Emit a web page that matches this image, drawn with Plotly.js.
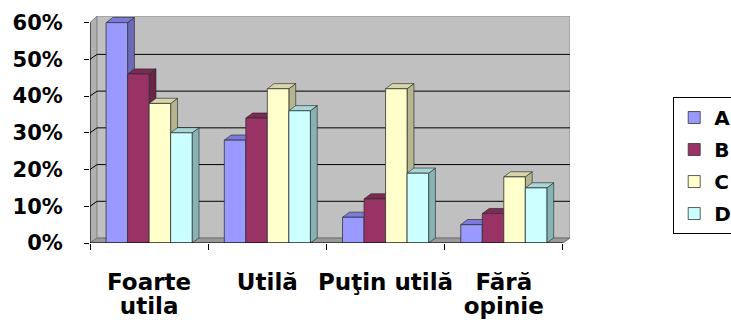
<!DOCTYPE html>
<html>
<head>
<meta charset="utf-8">
<script src="https://cdn.plot.ly/plotly-3.0.1.min.js"></script>
<style>html,body{margin:0;padding:0;background:#fff;}#chart{width:731px;height:320px;}</style>
</head>
<body>
<div id="chart"></div>
<script>
// ---- data ----
const categories = ['Foarte<br>utila', 'Utilă', 'Puţin utilă', 'Fără<br>opinie'];
const seriesNames = ['A', 'B', 'C', 'D'];
const valuesA = [60, 28, 7, 5];
const valuesB = [46, 34, 12, 8];
const valuesC = [38, 42, 42, 18];
const valuesD = [30, 36, 19, 15];
const yTickVals = [0, 10, 20, 30, 40, 50, 60];
const yTickText = ['0%', '10%', '20%', '30%', '40%', '50%', '60%'];

// ---- styles ----
const seriesValues = [valuesA, valuesB, valuesC, valuesD];
const frontColors = ['#9999ff', '#993366', '#ffffcc', '#ccffff'];
const sideColors  = ['#6b6bb8', '#6b2447', '#b5b58f', '#86b3b3'];
const topColors   = ['#7a7add', '#7d2a55', '#d6d6aa', '#a8d6d6'];
const bargap = 0.272;
const barDx = 0.058, barDy = 1.4;     // bar depth (data units)
const wallDx = 0.06, wallDy = 1.35;   // wall depth
const yTop = 61.8, xRight = 3.56;

const traces = seriesNames.map((name, j) => ({
  type: 'bar', name: name, x: categories, y: seriesValues[j],
  legendgroup: name,
  marker: {color: frontColors[j], line: {color: '#333', width: 0.8}},
  hoverinfo: 'skip'
}));

const shapes = [];
// left wall
shapes.push({type: 'path', layer: 'below', xref: 'x', yref: 'y',
  path: `M -0.5,0 L -0.5,60 L ${-0.5 + wallDx},${yTop} L ${-0.5 + wallDx},${wallDy} Z`,
  fillcolor: '#b0b0b0', line: {color: '#808080', width: 1}});
// back wall
shapes.push({type: 'rect', layer: 'below', xref: 'x', yref: 'y',
  x0: -0.5 + wallDx, x1: xRight, y0: wallDy, y1: yTop,
  fillcolor: '#c0c0c0', line: {color: '#909090', width: 1}});
// floor
shapes.push({type: 'path', layer: 'below', xref: 'x', yref: 'y',
  path: `M -0.5,0 L 3.5,0 L ${xRight},${wallDy} L ${-0.5 + wallDx},${wallDy} Z`,
  fillcolor: '#9a9a9a', line: {color: '#707070', width: 1}});
// gridlines
yTickVals.slice(1, -1).forEach(v => {
  shapes.push({type: 'line', layer: 'below', xref: 'x', yref: 'y',
    x0: -0.5 + wallDx, x1: xRight, y0: v + wallDy, y1: v + wallDy,
    line: {color: '#000', width: 1}});
  shapes.push({type: 'line', layer: 'below', xref: 'x', yref: 'y',
    x0: -0.5, x1: -0.5 + wallDx, y0: v, y1: v + wallDy,
    line: {color: '#000', width: 1}});
});
// 3D sides and tops of bars
const w = (1 - bargap) / seriesNames.length;
categories.forEach((c, i) => {
  seriesValues.forEach((vals, j) => {
    const v = vals[i];
    const x0 = i - (1 - bargap) / 2 + j * w;
    const x1 = x0 + w;
    shapes.push({type: 'path', layer: 'below', xref: 'x', yref: 'y',
      path: `M ${x1},0 L ${x1 + barDx},${barDy} L ${x1 + barDx},${v + barDy} L ${x1},${v} Z`,
      fillcolor: sideColors[j], line: {color: '#222', width: 0.6}});
    shapes.push({type: 'path', layer: 'below', xref: 'x', yref: 'y',
      path: `M ${x0},${v} L ${x0 + barDx},${v + barDy} L ${x1 + barDx},${v + barDy} L ${x1},${v} Z`,
      fillcolor: topColors[j], line: {color: '#222', width: 0.6}});
  });
});
// front axis lines
shapes.push({type: 'line', layer: 'above', xref: 'x', yref: 'y',
  x0: -0.5, x1: -0.5, y0: 0, y1: 60, line: {color: '#000', width: 1}});
shapes.push({type: 'line', layer: 'above', xref: 'x', yref: 'y',
  x0: -0.5, x1: 3.5, y0: 0, y1: 0, line: {color: '#000', width: 1}});

const layout = {
  width: 731, height: 320,
  margin: {l: 90, r: 161, t: 16, b: 77, autoexpand: false},
  paper_bgcolor: '#fff', plot_bgcolor: 'rgba(0,0,0,0)',
  barmode: 'group', bargap: bargap, bargroupgap: 0,
  font: {family: 'DejaVu Sans', color: '#000'},
  xaxis: {type: 'category', range: [-0.5, xRight], showgrid: false, zeroline: false,
    showline: false, ticks: 'outside', tickson: 'boundaries', ticklen: 6,
    tickcolor: '#000', tickwidth: 1, tickangle: 0,
    tickfont: {family: 'DejaVu Sans', size: 23, weight: 'bold', color: '#000'},
    ticklabelstandoff: 23, fixedrange: true},
  yaxis: {range: [0, yTop], showgrid: false, zeroline: false, showline: false,
    tickmode: 'array', tickvals: yTickVals, ticktext: yTickText,
    ticks: 'outside', ticklen: 5, tickcolor: '#000', tickwidth: 1,
    tickfont: {family: 'DejaVu Sans', size: 21, weight: 'bold', color: '#000'},
    ticklabelstandoff: 17, fixedrange: true},
  showlegend: true,
  legend: {x: 1.215, xanchor: 'left', y: 0.643, yanchor: 'top',
    traceorder: 'grouped', tracegroupgap: 3,
    bgcolor: '#fff', bordercolor: '#000', borderwidth: 1,
    font: {family: 'DejaVu Sans', size: 20, weight: 'bold', color: '#000'}},
  shapes: shapes
};

Plotly.newPlot('chart', traces, layout, {displayModeBar: false, staticPlot: true}).then(gd => {
  // tighter line spacing for the two-line category labels, as in the original
  gd.querySelectorAll('.xtick text tspan.line').forEach(t => {
    if (t.getAttribute('dy') && t.getAttribute('dy') !== '0em') t.setAttribute('dy', '1.05em');
  });
});
</script>
</body>
</html>
